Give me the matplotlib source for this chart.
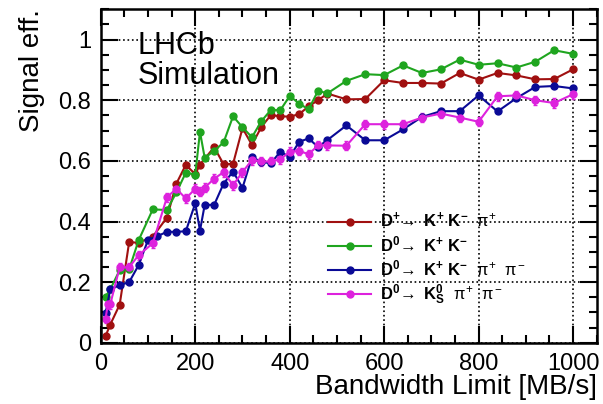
import numpy as np
import matplotlib
matplotlib.use('Agg')
import matplotlib.pyplot as plt
from matplotlib.ticker import MultipleLocator
from matplotlib.lines import Line2D

plt.rcParams['font.family'] = ['Liberation Sans', 'DejaVu Sans']
plt.rcParams['mathtext.fontset'] = 'custom'
plt.rcParams['mathtext.rm'] = 'Liberation Sans'
plt.rcParams['mathtext.it'] = 'Liberation Sans'
plt.rcParams['mathtext.bf'] = 'Liberation Sans:bold'

# data
x_dp = [10, 20, 40, 60, 80, 110, 140, 160, 180, 200, 210, 240, 260, 280, 300, 320, 340, 360,
        380, 400, 420, 440, 460, 480, 520, 560, 600, 640, 680, 720, 760, 800, 840, 880, 920, 960, 1000]
eff_dp = [0.022, 0.06, 0.126, 0.332, 0.33, 0.35, 0.413, 0.525, 0.587, 0.556, 0.588, 0.645, 0.589,
          0.59, 0.708, 0.653, 0.712, 0.751, 0.747, 0.746, 0.754, 0.78, 0.80, 0.822, 0.803, 0.804,
          0.866, 0.857, 0.857, 0.855, 0.89, 0.868, 0.89, 0.882, 0.869, 0.87, 0.902]

x_kk = [10, 20, 40, 60, 80, 110, 140, 160, 180, 200, 210, 220, 240, 260, 280, 300, 320, 340, 360,
        380, 400, 420, 440, 460, 480, 520, 560, 600, 640, 680, 720, 760, 800, 840, 880, 920, 960, 1000]
eff_kk = [0.152, 0.176, 0.24, 0.242, 0.338, 0.44, 0.438, 0.496, 0.561, 0.555, 0.696, 0.61, 0.633,
          0.661, 0.747, 0.711, 0.678, 0.731, 0.768, 0.767, 0.814, 0.789, 0.77, 0.831, 0.823, 0.864,
          0.886, 0.883, 0.915, 0.89, 0.902, 0.934, 0.917, 0.922, 0.908, 0.927, 0.965, 0.953]

x_kkpp = [10, 20, 40, 60, 80, 100, 120, 140, 160, 180, 200, 210, 220, 240, 260, 280, 300, 320, 340,
          360, 380, 400, 420, 440, 460, 480, 520, 560, 600, 640, 680, 720, 760, 800, 840, 880, 920,
          960, 1000]
eff_kkpp = [0.097, 0.176, 0.19, 0.20, 0.256, 0.339, 0.352, 0.366, 0.366, 0.368, 0.46, 0.37, 0.455,
            0.455, 0.525, 0.565, 0.511, 0.612, 0.597, 0.592, 0.630, 0.613, 0.663, 0.674, 0.646,
            0.669, 0.717, 0.668, 0.668, 0.704, 0.745, 0.764, 0.764, 0.816, 0.763, 0.807, 0.844,
            0.847, 0.839]

x_kspp = [10, 15, 20, 40, 60, 80, 110, 140, 160, 180, 200, 210, 220, 240, 260, 280, 300, 320, 340,
          360, 380, 400, 420, 440, 460, 480, 520, 560, 600, 640, 680, 720, 760, 800, 840, 880, 920,
          960, 1000]
eff_kspp = [0.08, 0.127, 0.127, 0.249, 0.249, 0.289, 0.328, 0.48, 0.508, 0.476, 0.508, 0.499, 0.512,
            0.541, 0.563, 0.52, 0.563, 0.603, 0.598, 0.598, 0.605, 0.630, 0.633, 0.622, 0.651,
            0.651, 0.650, 0.721, 0.721, 0.721, 0.743, 0.756, 0.743, 0.729, 0.813, 0.816, 0.800,
            0.791, 0.820]

err_dp = 0.006
err_kk = 0.006
err_kkpp = 0.006
err_kspp = 0.015

labels = [r'$\mathbf{D^{+}}\!\rightarrow\ \mathbf{K^{+}\ K^{-}}\ \ \pi^{+}$',
          r'$\mathbf{D^{0}}\!\rightarrow\ \mathbf{K^{+}\ K^{-}}$',
          r'$\mathbf{D^{0}}\!\rightarrow\ \mathbf{K^{+}\ K^{-}}\ \ \pi^{+}\ \ \pi^{-}$',
          r'$\mathbf{D^{0}}\!\rightarrow\ \mathbf{K^{0}_{S}}\ \ \pi^{+}\ \ \pi^{-}$']
colors = ['#a01010', '#1fa51f', '#0a0a96', '#dd22dd']

fig = plt.figure(figsize=(6.03, 4.04), dpi=100)
ax = fig.add_axes([100.8 / 603, 1 - 342.8 / 404, 495.9 / 603, 333.5 / 404])

series = [(x_dp, eff_dp, err_dp), (x_kk, eff_kk, err_kk),
          (x_kkpp, eff_kkpp, err_kkpp), (x_kspp, eff_kspp, err_kspp)]
handles = []
for (xs, ys, er), lab, c in zip(series, labels, colors):
    ax.errorbar(xs, ys, yerr=er, color=c, marker='o', markersize=5, linewidth=1.5,
                elinewidth=1.5, capsize=1.5)
    handles.append(Line2D([], [], color=c, marker='o', markersize=5, linewidth=1.5, label=lab))

ax.set_xlim(0, 1050)
ax.set_ylim(0, 1.1)
ax.xaxis.set_major_locator(MultipleLocator(200))
ax.xaxis.set_minor_locator(MultipleLocator(50))
ax.yaxis.set_major_locator(MultipleLocator(0.2))
ax.yaxis.set_minor_locator(MultipleLocator(0.05))
ax.set_yticks([0, 0.2, 0.4, 0.6, 0.8, 1.0])
ax.set_yticklabels(['0', '0.2', '0.4', '0.6', '0.8', '1'])
ax.tick_params(which='both', direction='in', top=True, right=True, width=1.5, labelsize=17)
ax.tick_params(which='major', length=12, pad=7)
ax.tick_params(which='minor', length=6)
ax.grid(True, which='major', color='black', linestyle=':', linewidth=1.2)
for s in ax.spines.values():
    s.set_linewidth(1.8)

ax.set_xlabel('Bandwidth Limit [MB/s]', fontsize=20, ha='right', x=1.0)
ax.set_ylabel('Signal eff.', fontsize=20, ha='right', y=1.0)
ax.yaxis.set_label_coords(-0.113, 1.0)
ax.xaxis.set_label_coords(1.0, -0.095)

ax.text(0.075, 0.935, 'LHCb\nSimulation', transform=ax.transAxes, fontsize=22,
        va='top', ha='left', linespacing=1.0)

ax.legend(handles=handles, loc='upper left', bbox_to_anchor=(0.445, 0.415), frameon=False,
          fontsize=12, handlelength=2.6, handletextpad=0.5, labelspacing=0.25, borderaxespad=0)

plt.savefig('out.png', dpi=100)
plt.close(fig)
